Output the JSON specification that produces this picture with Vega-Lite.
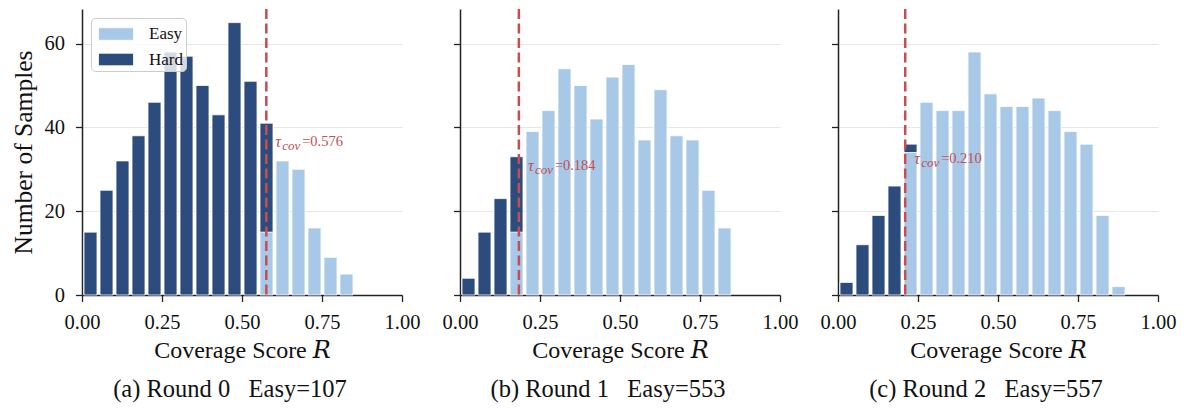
{
  "$schema": "https://vega.github.io/schema/vega-lite/v6.json",
  "background": "white",
  "padding": {"left": 11, "top": 7, "right": 6, "bottom": 5},
  "bounds": "flush",
  "spacing": 58,
  "config": {
    "view": {"stroke": null},
    "font": "Liberation Serif",
    "axis": {
      "labelFont": "Liberation Serif",
      "titleFont": "Liberation Serif, DejaVu Serif",
      "labelFontSize": 20.5,
      "titleFontSize": 24,
      "titleFontWeight": "normal",
      "labelColor": "#111111",
      "titleColor": "#111111",
      "domainColor": "#222222",
      "domainWidth": 1.5,
      "tickColor": "#222222",
      "tickWidth": 1.3,
      "tickSize": 6.5,
      "labelPadding": 11,
      "gridColor": "#e6e6e6",
      "gridWidth": 1,
      "labelFlush": false,
      "labelOverlap": false
    },
    "axisX": {"titlePadding": 5, "grid": false},
    "axisY": {"titlePadding": 8, "titleFontSize": 25.5},
    "title": {
      "font": "Liberation Serif",
      "fontSize": 24.5,
      "fontWeight": "normal",
      "color": "#111111"
    }
  },
  "datasets": {
    "bars": [
      {"round": "a", "lo": 0.00, "hi": 0.05, "group": "Hard", "count": 15},
      {"round": "a", "lo": 0.05, "hi": 0.10, "group": "Hard", "count": 25},
      {"round": "a", "lo": 0.10, "hi": 0.15, "group": "Hard", "count": 32},
      {"round": "a", "lo": 0.15, "hi": 0.20, "group": "Hard", "count": 38},
      {"round": "a", "lo": 0.20, "hi": 0.25, "group": "Hard", "count": 46},
      {"round": "a", "lo": 0.25, "hi": 0.30, "group": "Hard", "count": 58},
      {"round": "a", "lo": 0.30, "hi": 0.35, "group": "Hard", "count": 57},
      {"round": "a", "lo": 0.35, "hi": 0.40, "group": "Hard", "count": 50},
      {"round": "a", "lo": 0.40, "hi": 0.45, "group": "Hard", "count": 43},
      {"round": "a", "lo": 0.45, "hi": 0.50, "group": "Hard", "count": 65},
      {"round": "a", "lo": 0.50, "hi": 0.55, "group": "Hard", "count": 51},
      {"round": "a", "lo": 0.55, "hi": 0.60, "group": "Easy", "count": 15},
      {"round": "a", "lo": 0.55, "hi": 0.60, "group": "Hard", "count": 26},
      {"round": "a", "lo": 0.60, "hi": 0.65, "group": "Easy", "count": 32},
      {"round": "a", "lo": 0.65, "hi": 0.70, "group": "Easy", "count": 30},
      {"round": "a", "lo": 0.70, "hi": 0.75, "group": "Easy", "count": 16},
      {"round": "a", "lo": 0.75, "hi": 0.80, "group": "Easy", "count": 9},
      {"round": "a", "lo": 0.80, "hi": 0.85, "group": "Easy", "count": 5},

      {"round": "b", "lo": 0.00, "hi": 0.05, "group": "Hard", "count": 4},
      {"round": "b", "lo": 0.05, "hi": 0.10, "group": "Hard", "count": 15},
      {"round": "b", "lo": 0.10, "hi": 0.15, "group": "Hard", "count": 23},
      {"round": "b", "lo": 0.15, "hi": 0.20, "group": "Easy", "count": 15},
      {"round": "b", "lo": 0.15, "hi": 0.20, "group": "Hard", "count": 18},
      {"round": "b", "lo": 0.20, "hi": 0.25, "group": "Easy", "count": 39},
      {"round": "b", "lo": 0.25, "hi": 0.30, "group": "Easy", "count": 44},
      {"round": "b", "lo": 0.30, "hi": 0.35, "group": "Easy", "count": 54},
      {"round": "b", "lo": 0.35, "hi": 0.40, "group": "Easy", "count": 50},
      {"round": "b", "lo": 0.40, "hi": 0.45, "group": "Easy", "count": 42},
      {"round": "b", "lo": 0.45, "hi": 0.50, "group": "Easy", "count": 52},
      {"round": "b", "lo": 0.50, "hi": 0.55, "group": "Easy", "count": 55},
      {"round": "b", "lo": 0.55, "hi": 0.60, "group": "Easy", "count": 37},
      {"round": "b", "lo": 0.60, "hi": 0.65, "group": "Easy", "count": 49},
      {"round": "b", "lo": 0.65, "hi": 0.70, "group": "Easy", "count": 38},
      {"round": "b", "lo": 0.70, "hi": 0.75, "group": "Easy", "count": 37},
      {"round": "b", "lo": 0.75, "hi": 0.80, "group": "Easy", "count": 25},
      {"round": "b", "lo": 0.80, "hi": 0.85, "group": "Easy", "count": 16},

      {"round": "c", "lo": 0.00, "hi": 0.05, "group": "Hard", "count": 3},
      {"round": "c", "lo": 0.05, "hi": 0.10, "group": "Hard", "count": 12},
      {"round": "c", "lo": 0.10, "hi": 0.15, "group": "Hard", "count": 19},
      {"round": "c", "lo": 0.15, "hi": 0.20, "group": "Hard", "count": 26},
      {"round": "c", "lo": 0.20, "hi": 0.25, "group": "Easy", "count": 34},
      {"round": "c", "lo": 0.20, "hi": 0.25, "group": "Hard", "count": 2},
      {"round": "c", "lo": 0.25, "hi": 0.30, "group": "Easy", "count": 46},
      {"round": "c", "lo": 0.30, "hi": 0.35, "group": "Easy", "count": 44},
      {"round": "c", "lo": 0.35, "hi": 0.40, "group": "Easy", "count": 44},
      {"round": "c", "lo": 0.40, "hi": 0.45, "group": "Easy", "count": 58},
      {"round": "c", "lo": 0.45, "hi": 0.50, "group": "Easy", "count": 48},
      {"round": "c", "lo": 0.50, "hi": 0.55, "group": "Easy", "count": 45},
      {"round": "c", "lo": 0.55, "hi": 0.60, "group": "Easy", "count": 45},
      {"round": "c", "lo": 0.60, "hi": 0.65, "group": "Easy", "count": 47},
      {"round": "c", "lo": 0.65, "hi": 0.70, "group": "Easy", "count": 44},
      {"round": "c", "lo": 0.70, "hi": 0.75, "group": "Easy", "count": 39},
      {"round": "c", "lo": 0.75, "hi": 0.80, "group": "Easy", "count": 36},
      {"round": "c", "lo": 0.80, "hi": 0.85, "group": "Easy", "count": 19},
      {"round": "c", "lo": 0.85, "hi": 0.90, "group": "Easy", "count": 2}
    ],
    "thresholds": [
      {"round": "a", "tau": 0.576},
      {"round": "b", "tau": 0.184},
      {"round": "c", "tau": 0.210}
    ]
  },
  "resolve": {"legend": {"color": "independent"}},
  "hconcat": [
    {
      "width": 320,
      "height": 286,
      "title": {"text": "(a) Round 0\u00a0\u00a0\u00a0Easy=107", "orient": "bottom", "anchor": "middle", "frame": "group", "dx": -12, "offset": 16},
      "layer": [
        {
          "data": {"name": "bars"},
          "transform": [{"filter": "datum.round === 'a'"}],
          "mark": {"type": "bar", "stroke": "white", "strokeWidth": 0.8, "binSpacing": 3},
          "encoding": {
            "x": {"field": "lo", "type": "quantitative", "bin": {"binned": true, "step": 0.05}, "title": "Coverage Score 𝑅",
                  "scale": {"domain": [0, 1], "nice": false, "zero": false},
                  "axis": {"values": [0, 0.25, 0.5, 0.75, 1], "format": ".2f"}},
            "x2": {"field": "hi"},
            "y": {"field": "count", "type": "quantitative", "stack": "zero", "title": "Number of Samples",
                  "scale": {"domain": [0, 68.25], "nice": false},
                  "axis": {"values": [0, 20, 40, 60], "grid": true}},
            "color": {"field": "group", "type": "nominal",
                      "scale": {"domain": ["Easy", "Hard"], "range": ["#a8c8e7", "#2c4c7e"]},
                      "legend": {"title": null, "orient": "top-left", "offset": 9,
                                 "fillColor": "rgba(255,255,255,0.8)", "strokeColor": "#cccccc", "cornerRadius": 4,
                                 "padding": 3, "rowPadding": 4.5,
                                 "symbolType": "M-0.68,-0.5H2.12V0.5H-0.68Z", "symbolSize": 625,
                                 "symbolStrokeColor": "white", "symbolStrokeWidth": 0.8,
                                 "labelOffset": 29, "labelFont": "Liberation Serif", "labelFontSize": 17, "labelColor": "#111111",
                                 "labelExpr": "datum.label + '\u00a0\u00a0\u00a0\u00a0\u00a0\u00a0\u00a0'"}},
            "order": {"field": "group", "sort": "ascending"}
          }
        },
        {
          "data": {"name": "thresholds"},
          "transform": [{"filter": "datum.round === 'a'"}],
          "mark": {"type": "rule", "color": "#c44e52", "strokeWidth": 2.5, "strokeDash": [10, 4.5]},
          "encoding": {"x": {"field": "tau", "type": "quantitative"}}
        },
        {
          "data": {"name": "thresholds"},
          "transform": [{"filter": "datum.round === 'a'"}],
          "mark": {"type": "text", "text": "τ", "align": "left", "baseline": "middle", "dx": 9, "fontStyle": "italic", "fontSize": 16, "color": "#c44e52"},
          "encoding": {"x": {"field": "tau", "type": "quantitative"}, "y": {"datum": 36.4, "type": "quantitative"}}
        },
        {
          "data": {"name": "thresholds"},
          "transform": [{"filter": "datum.round === 'a'"}],
          "mark": {"type": "text", "text": "cov", "align": "left", "baseline": "middle", "dx": 16, "dy": 4, "fontStyle": "italic", "fontSize": 13, "color": "#c44e52"},
          "encoding": {"x": {"field": "tau", "type": "quantitative"}, "y": {"datum": 36.4, "type": "quantitative"}}
        },
        {
          "data": {"name": "thresholds"},
          "transform": [{"filter": "datum.round === 'a'"}],
          "mark": {"type": "text", "text": "=", "align": "left", "baseline": "middle", "dx": 36, "fontSize": 14.5, "color": "#c44e52"},
          "encoding": {"x": {"field": "tau", "type": "quantitative"}, "y": {"datum": 36.4, "type": "quantitative"}}
        },
        {
          "data": {"name": "thresholds"},
          "transform": [{"filter": "datum.round === 'a'"}],
          "mark": {"type": "text", "align": "left", "baseline": "middle", "dx": 44, "fontSize": 14.5, "color": "#c44e52"},
          "encoding": {"x": {"field": "tau", "type": "quantitative"}, "y": {"datum": 36.4, "type": "quantitative"},
                       "text": {"field": "tau", "type": "quantitative", "format": ".3f"}}
        }
      ]
    },
    {
      "width": 320,
      "height": 286,
      "title": {"text": "(b) Round 1\u00a0\u00a0\u00a0Easy=553", "orient": "bottom", "anchor": "middle", "frame": "group", "dx": -12, "offset": 16},
      "layer": [
        {
          "data": {"name": "bars"},
          "transform": [{"filter": "datum.round === 'b'"}],
          "mark": {"type": "bar", "stroke": "white", "strokeWidth": 0.8, "binSpacing": 3},
          "encoding": {
            "x": {"field": "lo", "type": "quantitative", "bin": {"binned": true, "step": 0.05}, "title": "Coverage Score 𝑅",
                  "scale": {"domain": [0, 1], "nice": false, "zero": false},
                  "axis": {"values": [0, 0.25, 0.5, 0.75, 1], "format": ".2f"}},
            "x2": {"field": "hi"},
            "y": {"field": "count", "type": "quantitative", "stack": "zero", "title": null,
                  "scale": {"domain": [0, 68.25], "nice": false},
                  "axis": {"values": [0, 20, 40, 60], "grid": true, "labels": false}},
            "color": {"field": "group", "type": "nominal",
                      "scale": {"domain": ["Easy", "Hard"], "range": ["#a8c8e7", "#2c4c7e"]},
                      "legend": null},
            "order": {"field": "group", "sort": "ascending"}
          }
        },
        {
          "data": {"name": "thresholds"},
          "transform": [{"filter": "datum.round === 'b'"}],
          "mark": {"type": "rule", "color": "#c44e52", "strokeWidth": 2.5, "strokeDash": [10, 4.5]},
          "encoding": {"x": {"field": "tau", "type": "quantitative"}}
        },
        {
          "data": {"name": "thresholds"},
          "transform": [{"filter": "datum.round === 'b'"}],
          "mark": {"type": "text", "text": "τ", "align": "left", "baseline": "middle", "dx": 9, "fontStyle": "italic", "fontSize": 16, "color": "#c44e52"},
          "encoding": {"x": {"field": "tau", "type": "quantitative"}, "y": {"datum": 30.8, "type": "quantitative"}}
        },
        {
          "data": {"name": "thresholds"},
          "transform": [{"filter": "datum.round === 'b'"}],
          "mark": {"type": "text", "text": "cov", "align": "left", "baseline": "middle", "dx": 16, "dy": 4, "fontStyle": "italic", "fontSize": 13, "color": "#c44e52"},
          "encoding": {"x": {"field": "tau", "type": "quantitative"}, "y": {"datum": 30.8, "type": "quantitative"}}
        },
        {
          "data": {"name": "thresholds"},
          "transform": [{"filter": "datum.round === 'b'"}],
          "mark": {"type": "text", "text": "=", "align": "left", "baseline": "middle", "dx": 36, "fontSize": 14.5, "color": "#c44e52"},
          "encoding": {"x": {"field": "tau", "type": "quantitative"}, "y": {"datum": 30.8, "type": "quantitative"}}
        },
        {
          "data": {"name": "thresholds"},
          "transform": [{"filter": "datum.round === 'b'"}],
          "mark": {"type": "text", "align": "left", "baseline": "middle", "dx": 44, "fontSize": 14.5, "color": "#c44e52"},
          "encoding": {"x": {"field": "tau", "type": "quantitative"}, "y": {"datum": 30.8, "type": "quantitative"},
                       "text": {"field": "tau", "type": "quantitative", "format": ".3f"}}
        }
      ]
    },
    {
      "width": 320,
      "height": 286,
      "title": {"text": "(c) Round 2\u00a0\u00a0\u00a0Easy=557", "orient": "bottom", "anchor": "middle", "frame": "group", "dx": -12, "offset": 16},
      "layer": [
        {
          "data": {"name": "bars"},
          "transform": [{"filter": "datum.round === 'c'"}],
          "mark": {"type": "bar", "stroke": "white", "strokeWidth": 0.8, "binSpacing": 3},
          "encoding": {
            "x": {"field": "lo", "type": "quantitative", "bin": {"binned": true, "step": 0.05}, "title": "Coverage Score 𝑅",
                  "scale": {"domain": [0, 1], "nice": false, "zero": false},
                  "axis": {"values": [0, 0.25, 0.5, 0.75, 1], "format": ".2f"}},
            "x2": {"field": "hi"},
            "y": {"field": "count", "type": "quantitative", "stack": "zero", "title": null,
                  "scale": {"domain": [0, 68.25], "nice": false},
                  "axis": {"values": [0, 20, 40, 60], "grid": true, "labels": false}},
            "color": {"field": "group", "type": "nominal",
                      "scale": {"domain": ["Easy", "Hard"], "range": ["#a8c8e7", "#2c4c7e"]},
                      "legend": null},
            "order": {"field": "group", "sort": "ascending"}
          }
        },
        {
          "data": {"name": "thresholds"},
          "transform": [{"filter": "datum.round === 'c'"}],
          "mark": {"type": "rule", "color": "#c44e52", "strokeWidth": 2.5, "strokeDash": [10, 4.5]},
          "encoding": {"x": {"field": "tau", "type": "quantitative"}}
        },
        {
          "data": {"name": "thresholds"},
          "transform": [{"filter": "datum.round === 'c'"}],
          "mark": {"type": "text", "text": "τ", "align": "left", "baseline": "middle", "dx": 9, "fontStyle": "italic", "fontSize": 16, "color": "#c44e52"},
          "encoding": {"x": {"field": "tau", "type": "quantitative"}, "y": {"datum": 32.5, "type": "quantitative"}}
        },
        {
          "data": {"name": "thresholds"},
          "transform": [{"filter": "datum.round === 'c'"}],
          "mark": {"type": "text", "text": "cov", "align": "left", "baseline": "middle", "dx": 16, "dy": 4, "fontStyle": "italic", "fontSize": 13, "color": "#c44e52"},
          "encoding": {"x": {"field": "tau", "type": "quantitative"}, "y": {"datum": 32.5, "type": "quantitative"}}
        },
        {
          "data": {"name": "thresholds"},
          "transform": [{"filter": "datum.round === 'c'"}],
          "mark": {"type": "text", "text": "=", "align": "left", "baseline": "middle", "dx": 36, "fontSize": 14.5, "color": "#c44e52"},
          "encoding": {"x": {"field": "tau", "type": "quantitative"}, "y": {"datum": 32.5, "type": "quantitative"}}
        },
        {
          "data": {"name": "thresholds"},
          "transform": [{"filter": "datum.round === 'c'"}],
          "mark": {"type": "text", "align": "left", "baseline": "middle", "dx": 44, "fontSize": 14.5, "color": "#c44e52"},
          "encoding": {"x": {"field": "tau", "type": "quantitative"}, "y": {"datum": 32.5, "type": "quantitative"},
                       "text": {"field": "tau", "type": "quantitative", "format": ".3f"}}
        }
      ]
    }
  ]
}
